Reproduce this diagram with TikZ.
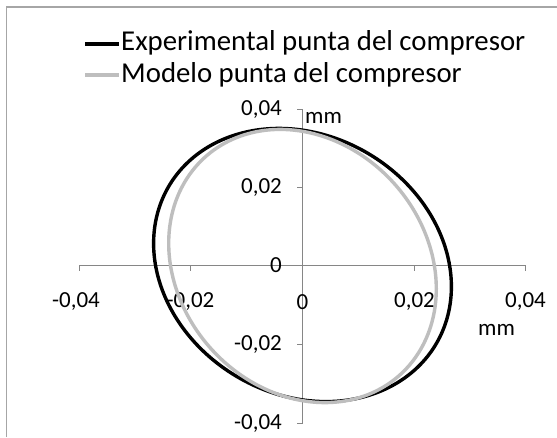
\documentclass[tikz,border=0pt]{standalone}
\usepackage{fontspec}
\setmainfont{Carlito}
\definecolor{axisgray}{HTML}{868686}
\definecolor{framegray}{HTML}{A6A6A6}
\definecolor{modelgray}{HTML}{BEBEBE}
\begin{document}
\begin{tikzpicture}[x=1pt,y=-1pt,
  axisline/.style={draw=axisgray,line width=1pt},
  ticklbl/.style={inner sep=0pt,font=\fontsize{23}{27}\selectfont},
  legtext/.style={anchor=west,inner sep=0pt,font=\fontsize{28.8}{32}\selectfont},
  expline/.style={draw=black,line width=3.4pt,line join=round},
  modline/.style={draw=modelgray,line width=3.4pt,line join=round}]
\useasboundingbox (0,0) rectangle (557,437);
\fill[white] (0,0) rectangle (557,437);
% frame
\draw[framegray,line width=1.2pt] (6.5,437) -- (6.5,7) -- (557,7);
% legend
\coordinate (l1a) at (85,44); \coordinate (l1b) at (119,44);
\coordinate (l2a) at (85,75); \coordinate (l2b) at (119,75);
\draw[expline,line width=4pt] (l1a) -- (l1b);
\draw[modline,line width=4pt] (l2a) -- (l2b);
\node[legtext] (t1) at (121,43) {Experimental punta del compresor};
\node[legtext] (t2) at (121,75) {Modelo punta del compresor};
% axes
\coordinate (xl) at (79,265); \coordinate (xr) at (525.5,265);
\coordinate (yt) at (302.5,109); \coordinate (yb) at (302.5,423);
\draw[axisline] (xl) -- (xr);
\draw[axisline] (yt) -- (yb);
\foreach \px in {79,190.5,302.5,414.5,525.5}{
  \draw[axisline] (\px,265) -- (\px,271);
}
\foreach \py in {109,187.5,265,344.5,423}{
  \draw[axisline] (302.5,\py) -- (296.5,\py);
}
\node[ticklbl] (xa) at (76,302) {-0,04};
\node[ticklbl] (xb) at (190.5,302) {-0,02};
\node[ticklbl] (xc) at (302.5,302) {0};
\node[ticklbl] (xd) at (414.5,302) {0,02};
\node[ticklbl] (xe) at (525.5,302) {0,04};
\node[ticklbl,anchor=east] (ya) at (282,110) {0,04};
\node[ticklbl,anchor=east] (yb) at (282,188) {0,02};
\node[ticklbl,anchor=east] (yc) at (282,265) {0};
\node[ticklbl,anchor=east] (yd) at (282,345) {-0,02};
\node[ticklbl,anchor=east] (ye) at (282,424) {-0,04};
\node[ticklbl,anchor=west] (ymm) at (305,118) {mm};
\node[ticklbl,anchor=west] (xmm) at (478,330) {mm};
% ellipses
\draw[expline] plot[domain=0:360,samples=145,smooth] ({302.5+148.9*cos(\x)},{265-136.6*cos(\x-99.1)});
\draw[modline] plot[domain=0:360,samples=145,smooth] ({302.5+133.8*cos(\x)},{266-136.6*cos(\x-99.6)});
\end{tikzpicture}
\end{document}
